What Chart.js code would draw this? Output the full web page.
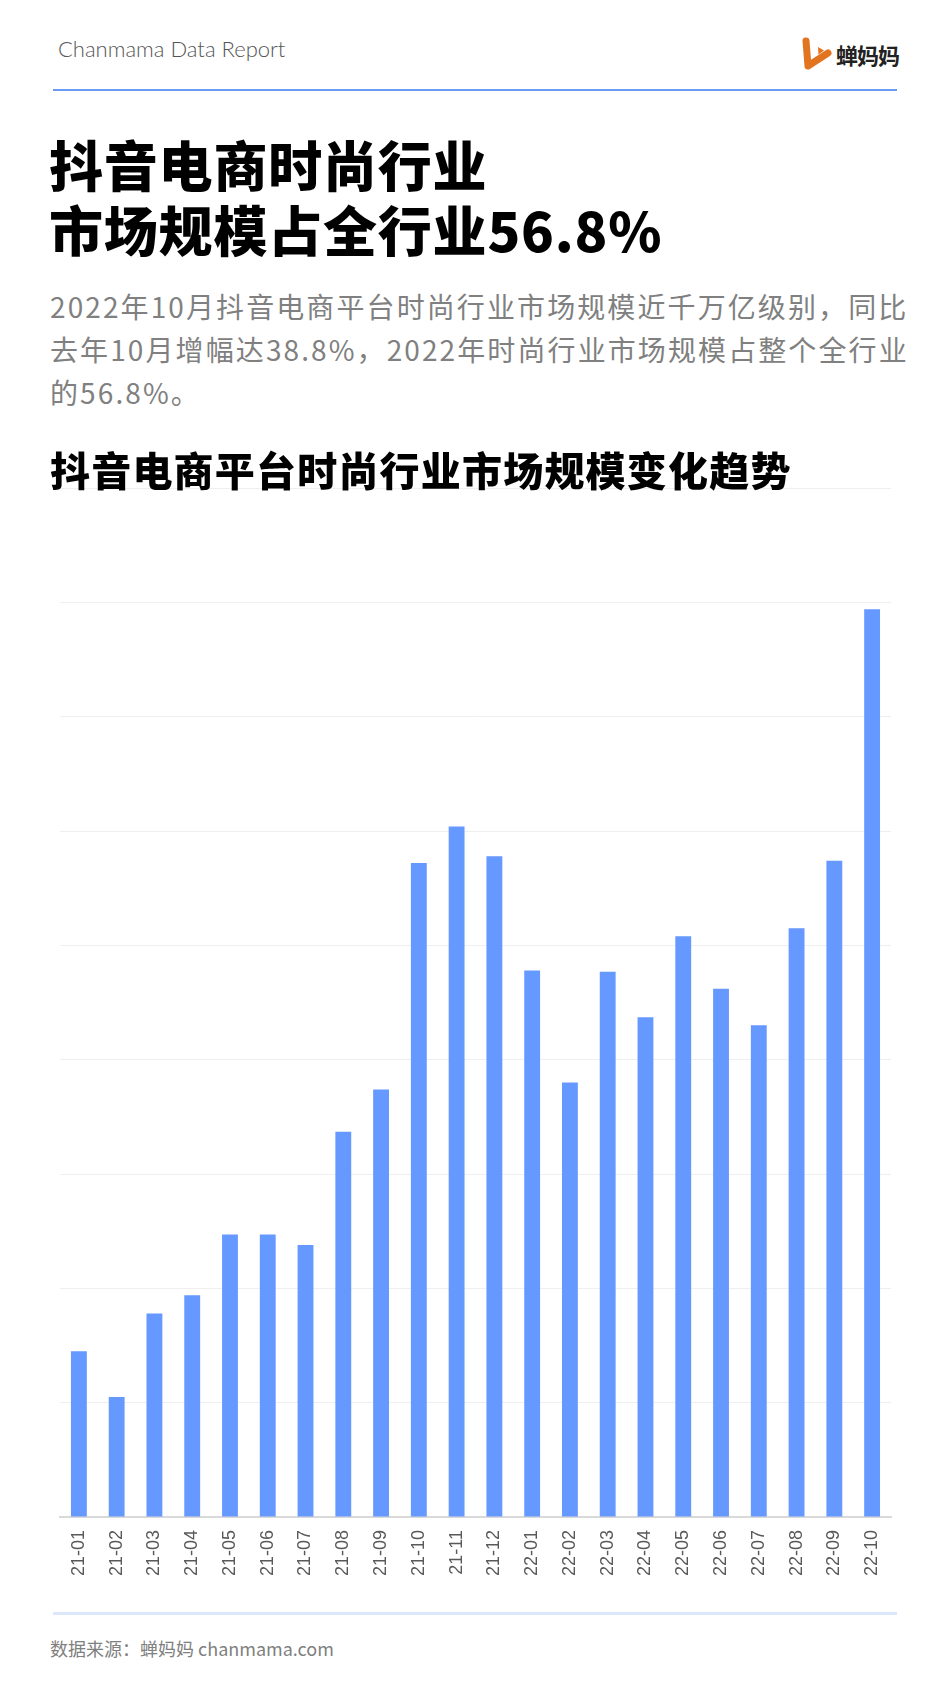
<!DOCTYPE html>
<html>
<head>
<meta charset="utf-8">
<script src="https://cdn.jsdelivr.net/npm/chart.js@4.4.0/dist/chart.umd.min.js"></script>
<style>
  body { margin: 0; background: #fff; }
  #page { position: relative; width: 950px; height: 1683px; overflow: hidden; font-family: "Noto Sans CJK SC", "Noto Sans", sans-serif; }
  .abs { position: absolute; white-space: nowrap; z-index: 2; }
  #brand { left: 58px; top: 35px; font-family: Lato, "Noto Sans", sans-serif; font-size: 22px; font-weight: 300; color: #555; }
  #logoText { left: 836px; top: 38px; font-size: 22px; font-weight: 700; color: #222; letter-spacing: -1px; }
  #topLine { left: 53px; top: 89px; width: 844px; height: 2px; background: #6a9cf5; }
  #title { left: 49px; top: 131px; font-size: 54px; font-weight: 900; line-height: 65px; color: #000; letter-spacing: 0.8px; }
  #intro { left: 50px; top: 285px; font-size: 28px; line-height: 43px; color: #808080; letter-spacing: 2.1px; }
  #subTitle { left: 50px; top: 445px; font-size: 40px; font-weight: 900; color: #000; line-height: 48px; letter-spacing: 1.2px; }
  #chartBox { position: absolute; left: 0; top: 468px; width: 950px; height: 1132px; z-index: 1; }
  #bottomLine { left: 53px; top: 1612px; width: 844px; height: 3px; background: #dce7fb; }
  #source { left: 50px; top: 1635px; font-size: 18px; color: #808080; }
</style>
</head>
<body>
<div id="page">
  <div class="abs" id="brand">Chanmama Data Report</div>
  <svg class="abs" style="left:797px;top:35px" width="38" height="38" viewBox="0 0 38 38">
    <path d="M9 6 L11 31 L31 18" fill="none" stroke="#e2731f" stroke-width="7" stroke-linecap="round" stroke-linejoin="round"/>
    <path d="M21 12 L27 15.5 L21.5 19.5 Z" fill="#e2731f"/>
  </svg>
  <div class="abs" id="logoText">蝉妈妈</div>
  <div class="abs" id="topLine"></div>

  <div class="abs" id="title">抖音电商时尚行业<br>市场规模占全行业56.8%</div>
  <div class="abs" id="intro">2022年10月抖音电商平台时尚行业市场规模近千万亿级别，同比<br>去年10月增幅达38.8%，2022年时尚行业市场规模占整个全行业<br>的56.8%。</div>
  <div class="abs" id="subTitle">抖音电商平台时尚行业市场规模变化趋势</div>

  <div id="chartBox"><canvas id="scaleChart" width="950" height="1132"></canvas></div>

  <div class="abs" id="bottomLine"></div>
  <div class="abs" id="source">数据来源：蝉妈妈 chanmama.com</div>
</div>

<script>
// 月份
const months = ["21-01", "21-02", "21-03", "21-04", "21-05", "21-06", "21-07", "21-08", "21-09", "21-10", "21-11",
    "21-12", "22-01", "22-02", "22-03", "22-04", "22-05", "22-06", "22-07", "22-08", "22-09", "22-10"];

// 时尚行业市场规模 (按网格读数估算，无刻度标签)
const marketScale = [145, 105, 178, 194, 247, 247, 238, 337, 374, 572, 604,
    578, 478, 380, 477, 437, 508, 462, 430, 515, 574, 794];

// y 轴刻度
const yMin = 0;
const yMax = 900;
const yStep = 100;

const scaleData = {
    labels: months,
    datasets: [{
        label: "市场规模",
        data: marketScale,
        backgroundColor: "#6699ff",
        borderWidth: 0,
        barPercentage: 0.42,
        categoryPercentage: 1
    }]
};

const scaleConfig = {
    type: "bar",
    data: scaleData,
    options: {
        responsive: false,
        animation: false,
        layout: {
            padding: { left: 60, right: 59, top: 20, bottom: 0 }
        },
        plugins: {
            legend: { display: false },
            tooltip: { enabled: false }
        },
        scales: {
            x: {
                grid: { display: false, drawTicks: false },
                border: { display: true, color: "#d9d9d9", width: 2 },
                ticks: {
                    autoSkip: false,
                    minRotation: 90,
                    maxRotation: 90,
                    padding: 13,
                    color: "#595959",
                    font: { family: "Liberation Sans", size: 18 }
                },
                afterFit(scale) {
                    scale.height = 83;
                }
            },
            y: {
                min: yMin,
                max: yMax,
                ticks: { display: false, stepSize: yStep },
                grid: { color: "#efefef", lineWidth: 1, drawTicks: false },
                border: { display: false }
            }
        }
    }
};

const scaleChart = new Chart(
    document.getElementById("scaleChart"),
    scaleConfig
);
</script>
</body>
</html>
